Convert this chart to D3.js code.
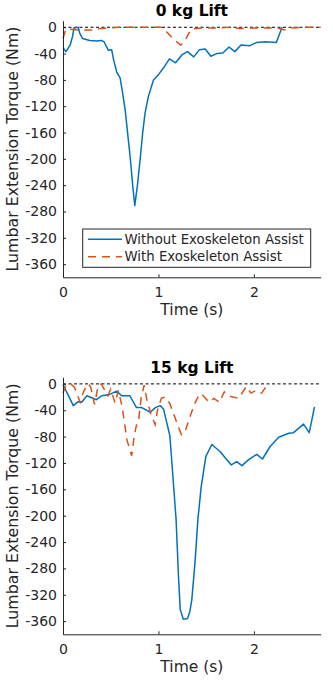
<!DOCTYPE html>
<html>
<head>
<meta charset="utf-8">
<script src="https://cdn.jsdelivr.net/npm/d3@7"></script>
<style>
  html, body { margin: 0; padding: 0; background: #fff; }
  svg { display: block; font-family: "DejaVu Sans", sans-serif; }
</style>
</head>
<body>
<svg id="chart" width="333" height="692"></svg>
<script>
// ---------- DATA ----------
const titles = ["0 kg Lift", "15 kg Lift"];
const seriesNames = ["Without Exoskeleton Assist", "With Exoskeleton Assist"];
const xTicks = [0, 1, 2];
const yTicks = [0, -40, -80, -120, -160, -200, -240, -280, -320, -360];
const xLabel = "Time (s)";
const yLabel = "Lumbar Extension Torque (Nm)";

// 0 kg lift, without exoskeleton: [time s, torque Nm]
const lift0Without = [
  [0.00,-31],[0.03,-37],[0.075,-27],[0.10,-14],[0.115,-1],[0.16,0],[0.175,-9],[0.205,-17],
  [0.28,-20],[0.35,-21],[0.40,-20],[0.43,-22],[0.475,-35],[0.51,-34],[0.528,-48],[0.563,-68],
  [0.598,-77],[0.625,-100],[0.651,-125],[0.68,-165],[0.703,-196],[0.73,-240],[0.752,-271],
  [0.78,-240],[0.808,-201],[0.835,-160],[0.86,-130],[0.895,-105],[0.948,-80],[1.0,-72],
  [1.052,-62],[1.115,-48],[1.18,-54],[1.245,-42],[1.305,-37],[1.37,-45],[1.43,-34],[1.49,-33],
  [1.55,-44],[1.61,-40],[1.675,-39],[1.74,-30],[1.80,-37],[1.865,-27],[1.96,-28],[2.03,-23],
  [2.12,-22],[2.235,-23],[2.295,0]
];
// 0 kg lift, with exoskeleton
const lift0With = [
  [0.00,-17],[0.03,-3],[0.08,-3],[0.15,-4],[0.30,-4],[0.40,-2],[0.50,-1],[0.60,0],[1.04,0],
  [1.10,-9],[1.17,-20],[1.235,-27],[1.28,-20],[1.34,-3],[1.45,-1],[1.60,-1],[1.75,0],[1.85,-2],
  [2.00,-1],[2.25,-1],[2.32,-4],[2.40,-1],[2.50,0],[2.70,0]
];
// 15 kg lift, without exoskeleton
const lift15Without = [
  [0.00,-1],[0.108,-33],[0.16,-27],[0.195,-28],[0.25,-18],[0.30,-21],[0.35,-24],[0.405,-18],
  [0.49,-16],[0.563,-11],[0.615,-18],[0.70,-18],[0.77,-36],[0.826,-36],[0.915,-43],[0.968,-36],
  [1.018,-33],[1.053,-38],[1.12,-79],[1.185,-206],[1.21,-292],[1.228,-342],[1.26,-357],
  [1.305,-356],[1.33,-345],[1.35,-327],[1.385,-267],[1.413,-206],[1.448,-156],[1.497,-110],
  [1.56,-92],[1.647,-103],[1.763,-123],[1.82,-118],[1.875,-124],[1.945,-115],[2.03,-107],
  [2.09,-114],[2.17,-95],[2.26,-81],[2.365,-75],[2.415,-74],[2.52,-61],[2.58,-74],[2.635,-35]
];
// 15 kg lift, with exoskeleton
const lift15With = [
  [0.00,-14],[0.03,-2],[0.08,0],[0.12,-5],[0.18,-28],[0.22,-10],[0.265,0],[0.29,-5],[0.33,-31],
  [0.37,-2],[0.40,0],[0.44,-10],[0.47,-18],[0.50,-8],[0.545,-29],[0.58,-10],[0.62,-35],
  [0.67,-85],[0.72,-109],[0.745,-80],[0.77,-62],[0.79,-58],[0.82,-20],[0.85,-2],[0.88,-25],
  [0.92,-45],[0.965,-62],[0.99,-40],[1.03,-22],[1.07,-20],[1.12,-30],[1.17,-50],[1.24,-77],
  [1.28,-72],[1.33,-50],[1.38,-30],[1.43,-15],[1.47,-18],[1.53,-28],[1.58,-22],[1.64,-28],
  [1.69,-12],[1.73,-18],[1.84,-22],[1.92,-4],[1.97,-14],[2.02,-10],[2.08,-14],[2.12,-6],[2.16,0]
];

const panels = [
  { title: titles[0], without: lift0Without, withExo: lift0With, top: 20.7, bottom: 277.3, legend: true },
  { title: titles[1], without: lift15Without, withExo: lift15With, top: 377.3, bottom: 634.3, legend: false }
];

// ---------- DRAW ----------
const svg = d3.select("#chart");
const left = 63, right = 320.7;
const axisColor = "#262626";
const blue = "#0072BD", orange = "#D95319";

panels.forEach(p => {
  const x = d3.scaleLinear().domain([0, 2.7]).range([left, right]);
  const y = d3.scaleLinear().domain([-380, 10]).range([p.bottom, p.top]);
  const g = svg.append("g");

  // zero reference line
  g.append("line")
    .attr("x1", x(0)).attr("x2", x(2.7))
    .attr("y1", y(0)).attr("y2", y(0))
    .attr("stroke", "#000").attr("stroke-width", 1)
    .attr("stroke-dasharray", "3,2.5");

  const line = d3.line().x(d => x(d[0])).y(d => y(d[1]));
  g.append("path").datum(p.without)
    .attr("d", line).attr("fill", "none")
    .attr("stroke", blue).attr("stroke-width", 1.5).attr("stroke-linejoin", "round");
  g.append("path").datum(p.withExo)
    .attr("d", line).attr("fill", "none")
    .attr("stroke", orange).attr("stroke-width", 1.5)
    .attr("stroke-dasharray", "8,6");

  // axes
  const yAxis = d3.axisLeft(y).tickValues(yTicks).tickFormat(d => String(d))
    .tickSizeInner(-3).tickSizeOuter(0).tickPadding(6);
  const ya = g.append("g").attr("transform", `translate(${left},0)`).call(yAxis);
  const xAxis = d3.axisBottom(x).tickValues(xTicks).tickFormat(d => String(d))
    .tickSizeInner(-3).tickSizeOuter(0).tickPadding(9.5);
  const xa = g.append("g").attr("transform", `translate(0,${p.bottom})`).call(xAxis);
  [ya, xa].forEach(a => {
    a.select(".domain").attr("stroke", axisColor).attr("stroke-width", 1);
    a.selectAll(".tick line").attr("stroke", axisColor).attr("stroke-width", 1);
    a.selectAll(".tick text").attr("fill", axisColor)
      .style("font-family", "DejaVu Sans").style("font-size", "14px");
  });

  // title
  g.append("text")
    .attr("x", (left + right) / 2).attr("y", p.top - 4.3)
    .attr("text-anchor", "middle")
    .style("font-size", "15.5px").style("font-weight", "bold").attr("fill", "#000")
    .text(p.title);

  // x label
  g.append("text")
    .attr("x", (left + right) / 2).attr("y", p.bottom + 38)
    .attr("text-anchor", "middle")
    .style("font-size", "15.5px").attr("fill", axisColor)
    .text(xLabel);

  // y label
  g.append("text")
    .attr("transform", `translate(18,${(p.top + p.bottom) / 2}) rotate(-90)`)
    .attr("text-anchor", "middle")
    .style("font-size", "15.8px").attr("fill", axisColor)
    .text(yLabel);

  if (p.legend) {
    const lg = g.append("g");
    lg.append("rect")
      .attr("x", 82.7).attr("y", 229).attr("width", 228).attr("height", 38.3)
      .attr("fill", "#fff").attr("stroke", axisColor).attr("stroke-width", 1);
    const rows = [
      { name: seriesNames[0], color: blue, dash: null, ly: 239.3 },
      { name: seriesNames[1], color: orange, dash: "8,6", ly: 256.7 }
    ];
    rows.forEach(r => {
      lg.append("line")
        .attr("x1", 88).attr("x2", 122).attr("y1", r.ly).attr("y2", r.ly)
        .attr("stroke", r.color).attr("stroke-width", 1.5)
        .attr("stroke-dasharray", r.dash);
      lg.append("text")
        .attr("x", 124.5).attr("y", r.ly + 4.7)
        .style("font-size", "13.3px").attr("fill", axisColor)
        .text(r.name);
    });
  }
});
</script>
</body>
</html>
